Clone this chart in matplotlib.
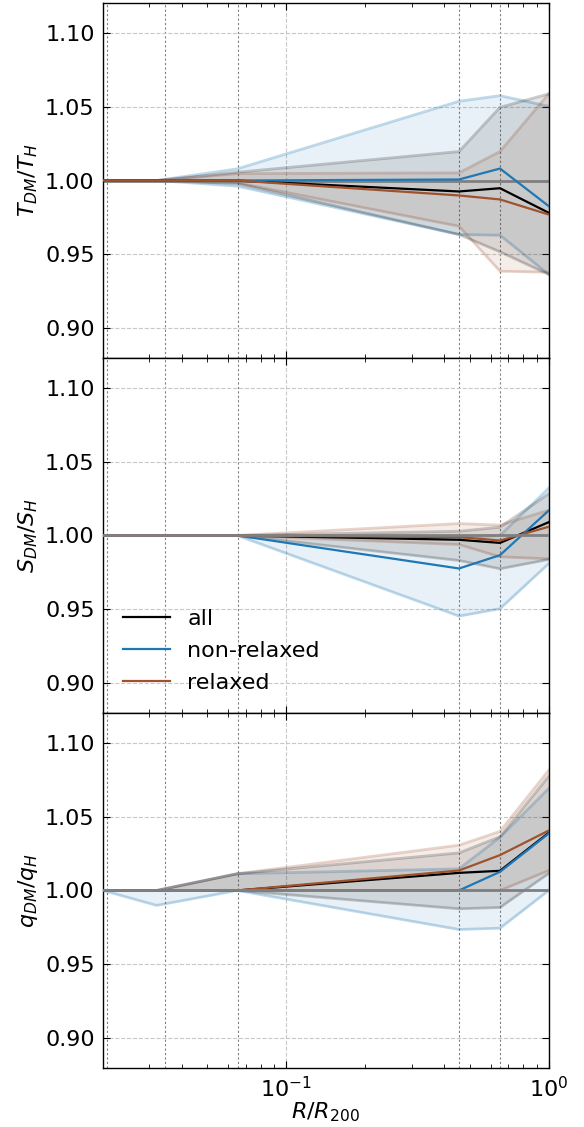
import matplotlib
matplotlib.use("Agg")
import matplotlib.pyplot as plt
from matplotlib.ticker import NullFormatter, FixedLocator, FormatStrFormatter

# radii (R/R200)
r = [0.02, 0.032, 0.065, 0.455, 0.652, 1.0]
vlines_r = [0.0207, 0.0345, 0.0652, 0.455, 0.652]

# ---------- panel 1: T_DM / T_H ----------
T_all = [1.0, 1.0, 1.0, 0.9926, 0.9948, 0.9782]
T_all_lo = [1.0, 1.0, 0.998, 0.9635, 0.9518, 0.9365]
T_all_hi = [1.0, 1.0, 1.0056, 1.0196, 1.0495, 1.0586]
T_nr = [1.0, 1.0, 1.0, 1.0007, 1.0081, 0.9827]
T_nr_lo = [1.0, 1.0, 0.9962, 0.9635, 0.963, 0.9365]
T_nr_hi = [1.0, 1.0, 1.0079, 1.0536, 1.0574, 1.0502]
T_re = [1.0, 1.0, 1.0, 0.9899, 0.9872, 0.977]
T_re_lo = [1.0, 1.0, 0.9984, 0.9691, 0.9387, 0.938]
T_re_hi = [1.0, 1.0, 1.0047, 1.0052, 1.0196, 1.0586]

# ---------- panel 2: S_DM / S_H ----------
S_all = [1.0, 1.0, 1.0, 0.9971, 0.995, 1.009]
S_all_lo = [1.0, 1.0, 1.0, 0.9831, 0.9775, 0.9838]
S_all_hi = [1.0, 1.0, 1.0, 1.0029, 1.0056, 1.0282]
S_nr = [1.0, 1.0, 1.0, 0.9777, 0.9867, 1.0169]
S_nr_lo = [1.0, 1.0, 1.0, 0.9455, 0.9505, 0.981]
S_nr_hi = [1.0, 1.0, 1.0, 0.9985, 1.0, 1.032]
S_re = [1.0, 1.0, 1.0, 0.9989, 0.9966, 1.0059]
S_re_lo = [1.0, 1.0, 1.0, 0.9939, 0.9856, 0.9842]
S_re_hi = [1.0, 1.0, 1.0, 1.0081, 1.007, 1.0171]

# ---------- panel 3: q_DM / q_H ----------
q_all = [1.0, 1.0, 1.0, 1.0119, 1.0133, 1.039]
q_all_lo = [1.0, 1.0, 1.0, 0.9876, 0.9885, 1.0115]
q_all_hi = [1.0, 1.0, 1.0113, 1.0254, 1.0363, 1.0773]
q_nr = [1.0, 1.0, 1.0, 1.0, 1.0126, 1.0385]
q_nr_lo = [1.0, 0.9899, 1.0, 0.9736, 0.9745, 1.0]
q_nr_hi = [1.0, 1.0, 1.0113, 1.0146, 1.036, 1.0689]
q_re = [1.0, 1.0, 1.0, 1.0135, 1.0239, 1.0405]
q_re_lo = [1.0, 1.0, 1.0, 1.0, 1.0, 1.0135]
q_re_hi = [1.0, 1.0, 1.0113, 1.0306, 1.0399, 1.0813]

ylabels = [r"$T_{DM}/T_H$", r"$S_{DM}/S_H$", r"$q_{DM}/q_H$"]
labels = ["all", "non-relaxed", "relaxed"]
yticks = [0.90, 0.95, 1.00, 1.05, 1.10]

C_ALL = "black"
C_NR = "#1f77b4"
C_RE = "#a0522d"

panels = [
    ((T_all, T_all_lo, T_all_hi), (T_nr, T_nr_lo, T_nr_hi), (T_re, T_re_lo, T_re_hi)),
    ((S_all, S_all_lo, S_all_hi), (S_nr, S_nr_lo, S_nr_hi), (S_re, S_re_lo, S_re_hi)),
    ((q_all, q_all_lo, q_all_hi), (q_nr, q_nr_lo, q_nr_hi), (q_re, q_re_lo, q_re_hi)),
]

FS = 16
fig, axes = plt.subplots(3, 1, figsize=(5.84, 11.27), dpi=100, sharex=True)
fig.subplots_adjust(left=0.1764, right=0.9396, top=0.9973, bottom=0.0524, hspace=0)

for i, (ax, pdata) in enumerate(zip(axes, panels)):
    (a, alo, ahi), (n, nlo, nhi), (e, elo, ehi) = pdata
    ax.set_xscale("log")
    # bands
    ax.fill_between(r, nlo, nhi, color=C_NR, alpha=0.1, lw=0, zorder=1)
    ax.plot(r, nlo, color=C_NR, alpha=0.28, lw=2, zorder=1)
    ax.plot(r, nhi, color=C_NR, alpha=0.28, lw=2, zorder=1)
    ax.fill_between(r, elo, ehi, color=C_RE, alpha=0.1, lw=0, zorder=1)
    ax.plot(r, elo, color=C_RE, alpha=0.25, lw=2, zorder=1)
    ax.plot(r, ehi, color=C_RE, alpha=0.25, lw=2, zorder=1)
    ax.fill_between(r, alo, ahi, color=C_ALL, alpha=0.1, lw=0, zorder=1)
    ax.plot(r, alo, color=C_ALL, alpha=0.2, lw=2, zorder=1)
    ax.plot(r, ahi, color=C_ALL, alpha=0.2, lw=2, zorder=1)
    # reference line
    ax.axhline(1.0, color="gray", lw=2, zorder=2 if i == 0 else 4)
    # mean lines
    ax.plot(r, a, color=C_ALL, lw=1.6, label=labels[0], zorder=3)
    ax.plot(r, n, color=C_NR, lw=1.6, label=labels[1], zorder=3)
    ax.plot(r, e, color=C_RE, lw=1.6, label=labels[2], zorder=3)
    # vertical markers
    for xv in vlines_r:
        ax.axvline(xv, color="k", alpha=0.5, lw=0.8, ls=(0, (2, 2)), zorder=0.5)
    ax.grid(True, which="major", color="#c8c8c8", ls="--", lw=0.8, zorder=0)
    ax.set_axisbelow(True)
    ax.set_ylim(0.88, 1.12)
    ax.set_xlim(0.02, 1.0)
    ax.yaxis.set_major_locator(FixedLocator(yticks))
    ax.yaxis.set_major_formatter(FormatStrFormatter("%.2f"))
    ax.set_ylabel(ylabels[i], fontsize=FS, labelpad=4)
    ax.tick_params(which="both", direction="in", top=True, right=True, labelsize=FS, pad=6)
    ax.tick_params(which="major", length=5)
    ax.tick_params(which="minor", length=3)
    ax.xaxis.set_minor_formatter(NullFormatter())
    for sp in ax.spines.values():
        sp.set_linewidth(1.0)

axes[1].legend(loc="lower left", frameon=False, fontsize=FS, handlelength=2.1, labelspacing=0.55)
axes[2].set_xlabel(r"$R/R_{200}$", fontsize=FS, labelpad=-1)

fig.savefig("out.png", dpi=100)
